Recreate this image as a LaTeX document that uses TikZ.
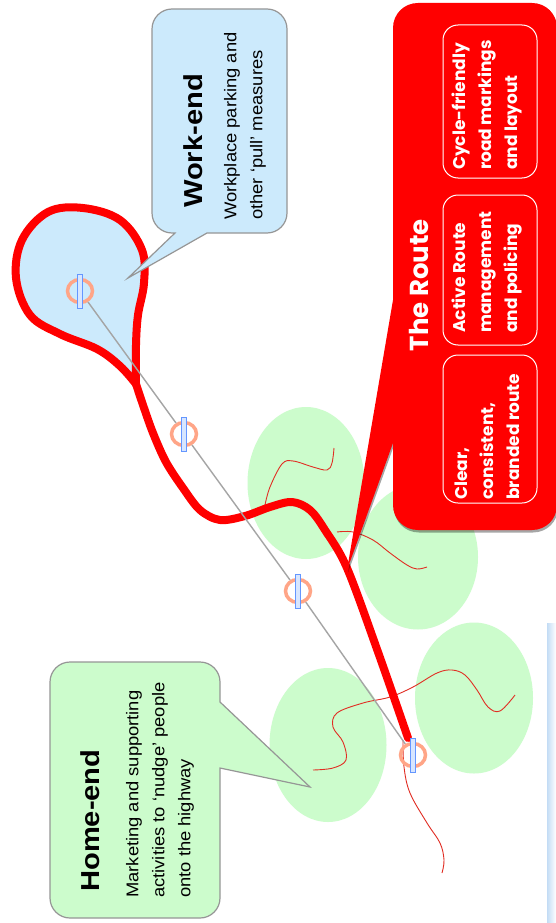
\documentclass[tikz,border=0pt]{standalone}
\usepackage{fontspec}
\setmainfont{Liberation Sans}
\newfontfamily\routefont{Poppins}
\usetikzlibrary{shapes.geometric,shadows}
\definecolor{skyfill}{RGB}{204,234,252}
\definecolor{mint}{RGB}{204,252,204}
\definecolor{routered}{RGB}{255,0,0}
\definecolor{calloutedge}{RGB}{150,150,150}
\definecolor{thinred}{RGB}{225,45,35}
\definecolor{ringcol}{RGB}{255,165,135}
\definecolor{barfill}{RGB}{215,230,255}
\definecolor{baredge}{RGB}{100,150,255}
\definecolor{trackgray}{RGB}{165,165,165}
\definecolor{edgeblue}{RGB}{195,220,245}
\begin{document}
\begin{tikzpicture}[x=1pt,y=-1pt,
  callout/.style={draw=calloutedge, line width=1.2},
  blob/.style={ellipse, fill=mint, draw=none, inner sep=0},
  ring/.style={ellipse, draw=ringcol, line width=3.5, minimum width=25, minimum height=23, inner sep=0},
  bar/.style={rectangle, draw=baredge, fill=barfill, line width=0.7, minimum width=4.5, minimum height=34, inner sep=0},
  track/.style={draw=trackgray, line width=1.4},
  wiggle/.style={draw=thinred, line width=0.9},
  route/.style={draw=routered, line width=8, line join=round, line cap=round},
  headtext/.style={font=\fontsize{26}{30}\selectfont\bfseries, rotate=90, xscale=1.12, anchor=west, inner sep=0},
  bodytext/.style={font=\fontsize{17}{26}\selectfont, rotate=90, xscale=1.08, anchor=west, inner sep=0, align=left},
  routehead/.style={font=\routefont\fontsize{26}{30}\selectfont\bfseries, text=white, rotate=90, anchor=center, inner sep=0},
  routebody/.style={font=\routefont\fontsize{17}{26}\selectfont\bfseries, text=white, rotate=90, anchor=west, inner sep=0, align=left},
  panelbox/.style={draw=white, line width=1, fill=routered, rounded corners=15, minimum width=94, inner sep=0},
]
\fill[white] (0,0) rectangle (556,923);
\useasboundingbox (0,0) rectangle (556,923);
\shade[left color=edgeblue, right color=white] (547,623) rectangle (556,923);

% green areas
\node[blob, minimum width=117, minimum height=152] (e1) at (306,483) {};
\node[blob, minimum width=120, minimum height=145] (e2) at (418,557) {};
\node[blob, minimum width=117, minimum height=154] (e3) at (328,745) {};
\node[blob, minimum width=118, minimum height=151] (e4) at (474,698) {};

% thin red streets
\draw[wiggle] plot[smooth, tension=0.6] coordinates {(265,505) (270,487) (282,464) (293,461) (313,467) (327,470) (332,463) (334,448)};
\draw[wiggle] plot[smooth, tension=0.6] coordinates {(337,532) (353,532) (373,540) (390,553) (407,565) (417,569) (427,567)};
\draw[wiggle] plot[smooth, tension=0.6] coordinates {(313,770) (333,768) (346,760) (343,742) (333,727) (337,713) (363,703) (390,697) (413,687) (437,673) (452,670) (465,675) (477,690) (488,707) (500,711) (515,695)};
\draw[wiggle] plot[smooth, tension=0.6] coordinates {(403,740) (404,767) (410,793) (427,823) (440,843) (444,860) (442,873)};

% the route
\filldraw[route, fill=skyfill] plot[smooth, tension=0.6] coordinates {(136,384) (136,345) (138,315) (144,283) (142,250) (120,220) (83,208) (48,212) (22,240) (16,278) (30,315) (60,334) (97,349) (120,366) (136,384)} -- cycle;
\draw[route] plot[smooth, tension=0.55] coordinates {(136,384) (143,405) (153,433) (166,462) (183,488) (200,510) (220,520) (245,516) (270,507) (292,502) (310,510) (325,530) (347,568) (378,652) (408,738)};

% Work-end callout
\filldraw[callout, fill=skyfill] (175,233) -- (128,278) -- (207,233) -- (267,233) .. controls (278,233) and (287,224) .. (287,213) -- (287,29) .. controls (287,18) and (278,9) .. (267,9) -- (172,9) .. controls (161,9) and (152,18) .. (152,29) -- (152,213) .. controls (152,224) and (161,233) .. (172,233) -- cycle;
\node[headtext] (wh) at (193,208) {Work-end};
\node[bodytext] (wb) at (245,220) {Workplace parking and\\other ‘pull’ measures};

% Home-end callout
\filldraw[callout, fill=mint] (220,702) -- (310,787) -- (220,768) -- (220,898) .. controls (220,909) and (211,918) .. (200,918) -- (70,918) .. controls (59,918) and (50,909) .. (50,898) -- (50,682) .. controls (50,671) and (59,662) .. (70,662) -- (200,662) .. controls (211,662) and (220,671) .. (220,682) -- cycle;
\node[headtext] (hh) at (90,892) {Home-end};
\node[bodytext] (hb) at (160,898) {Marketing and supporting\\activities to ‘nudge’ people\\onto the highway};

% The Route callout
\fill[routered, drop shadow={shadow xshift=1pt, shadow yshift=-2.5pt, opacity=0.35, fill=black}] (393,300) -- (347,570) -- (393,443) -- (393,505) .. controls (393,519) and (404,530) .. (418,530) -- (532,530) .. controls (546,530) and (557,519) .. (557,505) -- (557,28) .. controls (557,14) and (546,3) .. (532,3) -- (418,3) .. controls (404,3) and (393,14) .. (393,28) -- cycle;
\node[panelbox, minimum height=153] (p1) at (490,101.5) {};
\node[panelbox, minimum height=150] (p2) at (490,270) {};
\node[panelbox, minimum height=148] (p3) at (490,429) {};
\node[routehead] (th) at (419,285) {The Route};
\node[routebody] (t1) at (487,170) {Cycle-friendly\\road markings\\and layout};
\node[routebody] (t2) at (487,333) {Active Route\\management\\and policing};
\node[routebody] (t3) at (487,500) {Clear,\\consistent,\\branded route};

% stops on the line
\node[ring] (m1) at (80,291) {};
\node[ring] (m2) at (184,434) {};
\node[ring] (m3) at (298,591) {};
\node[ring] (m4) at (413,755) {};
\draw[track] (m1) -- (m2);
\draw[track] (m2) -- (m3);
\draw[track] (m3) -- (m4);
\node[bar] (m1bar) at (m1.center) {};
\node[bar] (m2bar) at (m2.center) {};
\node[bar] (m3bar) at (m3.center) {};
\node[bar] (m4bar) at (m4.center) {};
\end{tikzpicture}
\end{document}
